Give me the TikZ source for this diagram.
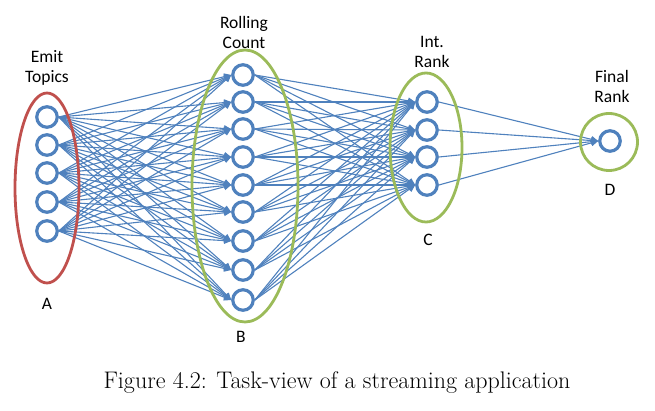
\documentclass[tikz,border=0pt]{standalone}
\usepackage{fontspec}
\newfontfamily\labelfont{Carlito}
\usetikzlibrary{arrows.meta}
\definecolor{taskblue}{RGB}{79,129,189}
\definecolor{groupred}{RGB}{192,80,77}
\definecolor{groupgreen}{RGB}{155,187,89}
\tikzset{
  task/.style={circle, draw=taskblue, line width=3.2pt, fill=white, inner sep=0pt, minimum size=20.5pt},
  flow/.style={taskblue, line width=1.1pt, -{Triangle[length=7pt,width=6.5pt]}},
  group/.style={line width=2.8pt},
  lbl/.style={font=\labelfont\fontsize{17.5}{20}\selectfont, align=center, inner sep=0pt}
}
\begin{document}
\begin{tikzpicture}[x=1pt, y=-1pt]
  \useasboundingbox (0,0) rectangle (655,411);
  % tasks
  \foreach \y [count=\i] in {117,145,173,202,231}
    \node[task] (a\i) at (47,\y) {};
  \foreach \y [count=\i] in {75,102,129,157,185,212,241,270,300}
    \node[task] (b\i) at (243,\y) {};
  \foreach \y [count=\i] in {102,130,157,185}
    \node[task] (c\i) at (427,\y) {};
  \node[task] (d) at (610,141) {};
  % streams
  \foreach \i in {1,...,5}
    \foreach \j in {1,...,9}
      \draw[flow] (a\i.east) -- (b\j.west);
  \foreach \i in {1,...,9}
    \foreach \j in {1,...,4}
      \draw[flow] (b\i.east) -- (c\j.west);
  \foreach \i in {1,...,4}
    \draw[flow] (c\i.east) -- (d.west);
  % groups
  \draw[group, groupred] (47,188) ellipse (32 and 95);
  \draw[group, groupgreen] (245,186) ellipse (53 and 136);
  \draw[group, groupgreen] (426,147.5) ellipse (36 and 74.5);
  \draw[group, groupgreen] (609,142) circle (28.5);
  % labels
  \node[lbl] (emit) at (47,68) {Emit\\Topics};
  \node[lbl] (roll) at (244,32) {Rolling\\Count};
  \node[lbl] (inter) at (432,52) {Int.\\Rank};
  \node[lbl] (final) at (612,86) {Final\\Rank};
  \node[lbl] (ga) at (47,304) {A};
  \node[lbl] (gb) at (241,337) {B};
  \node[lbl] (gc) at (428,240) {C};
  \node[lbl] (gd) at (610,190) {D};
  \node[font=\fontsize{24}{28}\selectfont, inner sep=0pt] (caption) at (337,383)
    {Figure 4.2: Task-view of a streaming application};
\end{tikzpicture}
\end{document}
